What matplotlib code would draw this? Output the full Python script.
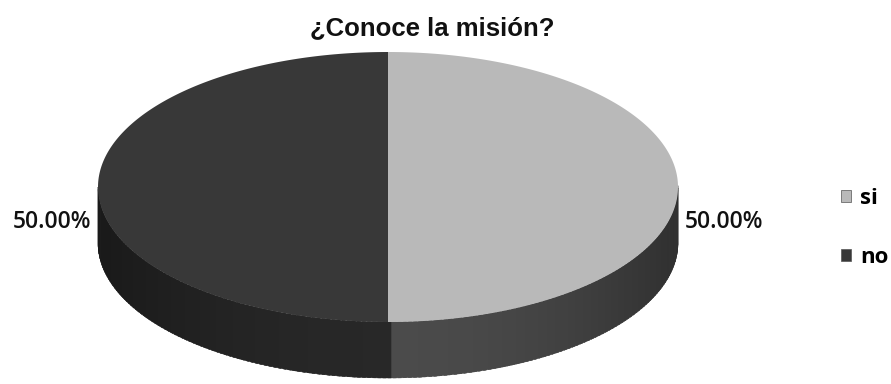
import numpy as np
import matplotlib.pyplot as plt
from matplotlib.patches import Polygon, Patch

# data
categories = ['si', 'no']
values = [50.0, 50.0]
top_colors = ['#b9b9b9', '#383838']
side_colors = ['#444444', '#242424']
title = '¿Conoce la misión?'

# layout (pixels)
W, H = 891, 384
cx, cy = 388, 187
a, b = 290, 135
depth = 56


def shade(hex_color, f):
    rgb = np.array([int(hex_color[i:i + 2], 16) for i in (1, 3, 5)]) / 255.0
    return tuple(np.clip(rgb * f, 0, 1))


def ellipse_pts(t1, t2, dy=0, n=200):
    t = np.radians(np.linspace(t1, t2, n))
    return np.column_stack([cx + a * np.cos(t), cy - b * np.sin(t) + dy])


fig = plt.figure(figsize=(W / 100, H / 100), dpi=100)
ax = fig.add_axes([0, 0, 1, 1])
ax.set_xlim(0, W)
ax.set_ylim(H, 0)
ax.axis('off')

total = sum(values)
start = 90.0
slices = []
for i, v in enumerate(values):
    sweep = v / total * 360.0
    t2 = start
    t1 = start - sweep
    slices.append((t1, t2))
    start = t1

# sides (front half only: angles between 180 and 360)
for i, (t1, t2) in enumerate(slices):
    lo, hi = t1 % 360, t2 % 360
    if hi <= lo:
        hi += 360
    segs = []
    for k in (0, 360):
        s, e = max(lo, 180 + k), min(hi, 360 + k)
        if e > s:
            segs.append((s, e))
    for s, e in segs:
        edges = np.linspace(s, e, 90)
        for j in range(len(edges) - 1):
            tm = np.radians((edges[j] + edges[j + 1]) / 2)
            # darker towards the sides, lighter at the front
            f = 0.7 + 0.4 * (-np.sin(tm)) ** 2
            top = ellipse_pts(edges[j], edges[j + 1] + 0.6, 0, 6)
            bot = ellipse_pts(edges[j + 1] + 0.6, edges[j], depth, 6)
            c = shade(side_colors[i], f)
            ax.add_patch(Polygon(np.vstack([top, bot]), closed=True,
                                 facecolor=c, edgecolor=c, linewidth=0.3))

# top faces
handles = []
for i, (t1, t2) in enumerate(slices):
    pts = np.vstack([[cx, cy], ellipse_pts(t1, t2)])
    ax.add_patch(Polygon(pts, closed=True, facecolor=top_colors[i],
                         edgecolor='none'))
    handles.append(Patch(facecolor=top_colors[i], edgecolor='#555555',
                         linewidth=0.5, label=categories[i]))

# data labels
for i, (t1, t2) in enumerate(slices):
    mid = np.radians((t1 + t2) / 2)
    x = cx + (a + 7) * np.cos(mid)
    y = cy - b * np.sin(mid) + 35
    ha = 'left' if np.cos(mid) > 0 else 'right'
    ax.text(x, y, f'{values[i] / total * 100:.2f}%', ha=ha, va='center',
            fontsize=16.5, family='Open Sans', fontweight='semibold',
            color='#111111')

fig.text(432 / W, 1 - 28 / H, title, ha='center', va='center',
         fontsize=18.5, fontweight='bold', family='Liberation Sans',
         color='#111111')

leg = fig.legend(handles=handles, loc='center left',
                 bbox_to_anchor=(830 / W, 1 - 228 / H), frameon=False,
                 prop={'family': 'Open Sans', 'size': 16, 'weight': 'bold'},
                 handlelength=0.45, handleheight=0.45, handletextpad=0.4,
                 labelspacing=1.7, borderpad=0)

fig.savefig('out.png', dpi=100)
